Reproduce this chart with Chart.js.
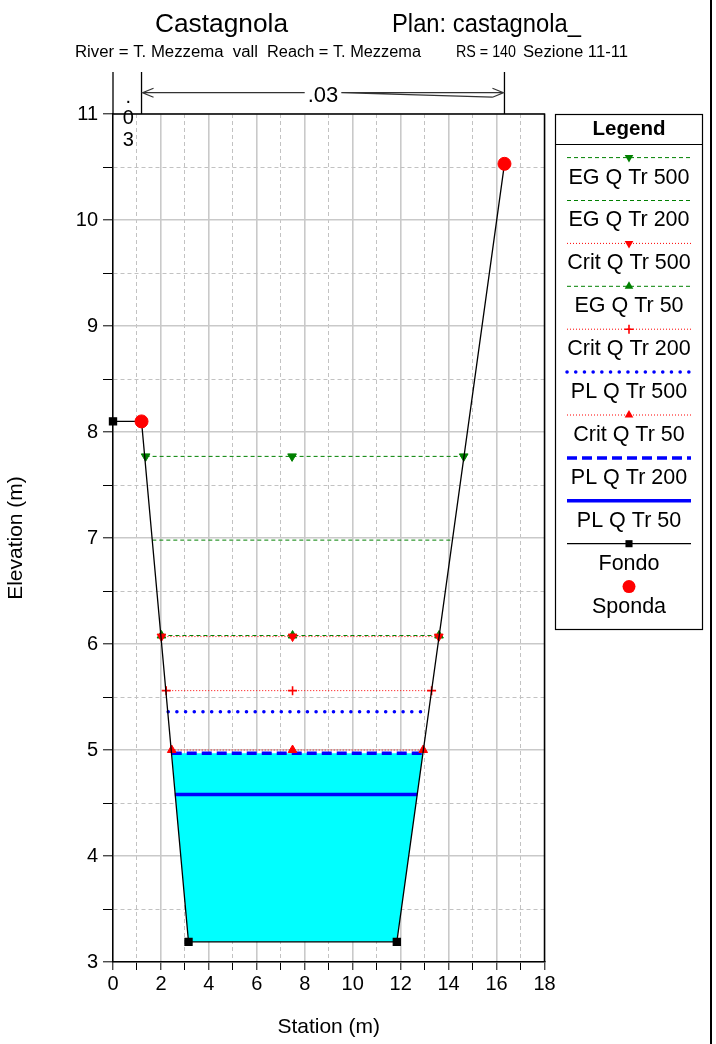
<!DOCTYPE html>
<html lang="it">
<head>
<meta charset="utf-8">
<title>Castagnola - Sezione 11-11</title>
<script src="https://cdn.jsdelivr.net/npm/chart.js@4.4.1/dist/chart.umd.min.js"></script>
<style>
  html, body { margin: 0; padding: 0; background: #fff; }
  canvas { display: block; }
</style>
</head>
<body>
<canvas id="sezione" width="716" height="1044"></canvas>
<script>
// Sezione trasversale RS 140
const FONT = '"Liberation Sans", Arial, sans-serif';

// fondo alveo
const fondoX = [0, 1.19, 3.15, 11.84, 16.33];
const fondoY = [8.10, 8.10, 3.19, 3.19, 10.53];

// sponde
const spondaX = [1.19, 16.33];
const spondaY = [8.10, 10.53];

// profili idrici (ordine della legenda)
const profili = ['EG Q Tr 500', 'EG Q Tr 200', 'Crit Q Tr 500', 'EG Q Tr 50', 'Crit Q Tr 200',
                 'PL Q Tr 500', 'Crit Q Tr 50', 'PL Q Tr 200', 'PL Q Tr 50'];
const quote     = [7.77, 6.98, 6.07, 6.08, 5.56, 5.36, 5.00, 4.97, 4.58];
const xSinistra = [1.36, 1.64, 2.02, 2.02, 2.22, 2.30, 2.45, 2.45, 2.58];
const xCentro   = [7.47, 7.47, 7.49, 7.49, 7.49, 7.49, 7.49, 7.49, 7.49];
const xDestra   = [14.63, 14.14, 13.59, 13.60, 13.29, 13.00, 12.94, 12.93, 12.69];

// area bagnata (PL Q Tr 200)
const acquaX = [2.45, 3.15, 11.84, 12.93, 2.45];
const acquaY = [4.97, 3.19, 3.19, 4.97, 4.97];

// scabrezza di Manning (golena sx, alveo)
const manningN = ['.03', '.03'];

// etichette degli assi
const etichetteX = [0, 2, 4, 6, 8, 10, 12, 14, 16, 18];
const etichetteY = [3, 4, 5, 6, 7, 8, 9, 10, 11];

// stili delle linee dei profili
const stili = [
  { colore: '#008000', tratto: [4, 3], spessore: 1, punto: 'triangle', rot: 180, raggio: 5 },
  { colore: '#008000', tratto: [4, 3], spessore: 1, punto: null },
  { colore: '#ff0000', tratto: [1, 2], spessore: 1, punto: 'triangle', rot: 180, raggio: 5 },
  { colore: '#008000', tratto: [4, 3], spessore: 1, punto: 'triangle', rot: 0, raggio: 5 },
  { colore: '#ff0000', tratto: [1, 2], spessore: 1, punto: 'cross', rot: 0, raggio: 4.5 },
  { colore: '#0000ff', tratto: [0.1, 8.6], spessore: 3.5, punto: null, cap: 'round' },
  { colore: '#ff0000', tratto: [1, 2], spessore: 1, punto: 'triangle', rot: 0, raggio: 5 },
  { colore: '#0000ff', tratto: [10, 5], spessore: 3.5, punto: null },
  { colore: '#0000ff', tratto: [], spessore: 3.5, punto: null }
];

const punti = (xs, ys) => xs.map((x, i) => ({ x: x, y: ys[i] }));

const datasets = [];
datasets.push({
  label: 'Sponda',
  data: punti(spondaX, spondaY),
  showLine: false,
  pointStyle: 'circle',
  pointRadius: 6.5,
  pointBackgroundColor: '#ff0000',
  pointBorderColor: '#ff0000',
  clip: false,
  order: 0
});
datasets.push({
  label: 'Fondo',
  data: punti(fondoX, fondoY),
  showLine: true,
  borderColor: '#000',
  borderWidth: 1.3,
  pointStyle: 'rect',
  pointRadius: 5,
  pointBackgroundColor: '#000',
  pointBorderColor: '#000',
  clip: false,
  order: 1
});
profili.forEach((nome, i) => {
  const s = stili[i];
  datasets.push({
    label: nome,
    data: [
      { x: xSinistra[i], y: quote[i] },
      { x: xCentro[i], y: quote[i] },
      { x: xDestra[i], y: quote[i] }
    ],
    showLine: true,
    borderColor: s.colore,
    borderWidth: s.spessore,
    borderDash: s.tratto,
    borderCapStyle: s.cap || 'butt',
    pointStyle: s.punto || 'circle',
    pointRadius: s.punto ? s.raggio : 0,
    pointRotation: s.rot || 0,
    pointBackgroundColor: s.colore,
    pointBorderColor: s.colore,
    pointBorderWidth: s.punto === 'cross' ? 1.6 : 1,
    order: 2 + i
  });
});
datasets.push({
  label: 'acqua',
  data: punti(acquaX, acquaY),
  showLine: true,
  fill: 'shape',
  backgroundColor: '#00ffff',
  borderColor: 'rgba(0,0,0,0)',
  borderWidth: 0,
  pointRadius: 0,
  order: 50
});

function disegnaMarker(ctx, tipo, raggio, rot, colore, cx, cy) {
  ctx.save();
  ctx.setLineDash([]);
  ctx.fillStyle = colore;
  ctx.strokeStyle = colore;
  ctx.beginPath();
  if (tipo === 'triangle') {
    const a = rot * Math.PI / 180;
    for (let k = 0; k < 3; k++) {
      const ang = a + k * 2 * Math.PI / 3;
      const px = cx + Math.sin(ang) * raggio;
      const py = cy - Math.cos(ang) * raggio;
      if (k === 0) ctx.moveTo(px, py); else ctx.lineTo(px, py);
    }
    ctx.closePath();
    ctx.fill();
  } else if (tipo === 'cross') {
    ctx.lineWidth = 1.6;
    ctx.moveTo(cx - raggio, cy); ctx.lineTo(cx + raggio, cy);
    ctx.moveTo(cx, cy - raggio); ctx.lineTo(cx, cy + raggio);
    ctx.stroke();
  } else if (tipo === 'rect') {
    const m = raggio * Math.SQRT1_2;
    ctx.fillRect(cx - m, cy - m, 2 * m, 2 * m);
  } else {
    ctx.arc(cx, cy, raggio, 0, Math.PI * 2);
    ctx.fill();
  }
  ctx.restore();
}

// testo stretto/allargato per occupare una larghezza data
function testoAdattato(ctx, testo, x, y, larghezza) {
  const w = ctx.measureText(testo).width;
  ctx.save();
  ctx.translate(x, y);
  ctx.scale(larghezza / w, 1);
  ctx.fillText(testo, 0, 0);
  ctx.restore();
}

// titoli, cornice, indicazione della scabrezza
const annotazioni = {
  id: 'annotazioni',
  afterDraw(chart) {
    const { ctx, chartArea: ca, scales: { x } } = chart;
    ctx.save();
    ctx.fillStyle = '#000';
    ctx.textBaseline = 'alphabetic';
    ctx.textAlign = 'left';
    ctx.font = '26px ' + FONT;
    testoAdattato(ctx, 'Castagnola', 155, 32, 133);
    testoAdattato(ctx, 'Plan: castagnola_', 392, 32, 189);
    ctx.font = '16px ' + FONT;
    testoAdattato(ctx, 'River = T. Mezzema  vall', 75, 57, 183);
    testoAdattato(ctx, 'Reach = T. Mezzema', 267, 57, 154);
    testoAdattato(ctx, 'RS = 140', 456, 57, 60);
    testoAdattato(ctx, 'Sezione 11-11', 523, 57, 105);

    // cornice superiore e destra dell'area del grafico
    ctx.strokeStyle = '#000';
    ctx.lineWidth = 1.5;
    ctx.beginPath();
    ctx.moveTo(ca.left, ca.top);
    ctx.lineTo(ca.right, ca.top);
    ctx.lineTo(ca.right, ca.bottom);
    ctx.stroke();

    // linee verticali delle sponde
    const bx1 = x.getPixelForValue(spondaX[0]);
    const bx2 = x.getPixelForValue(spondaX[1]);
    ctx.lineWidth = 1.3;
    ctx.beginPath();
    [ca.left, bx1, bx2].forEach(px => {
      ctx.moveTo(px, 72);
      ctx.lineTo(px, ca.top);
    });
    ctx.stroke();

    // n golena sinistra, scritto in verticale
    ctx.font = '20px ' + FONT;
    ctx.textAlign = 'center';
    const cxs = (ca.left + bx1) / 2 + 1;
    manningN[0].split('').forEach((c, k) => ctx.fillText(c, cxs, 102.5 + k * 21.5));

    // n alveo con frecce
    ctx.font = '22px ' + FONT;
    const cm = (bx1 + bx2) / 2;
    ctx.fillText(manningN[1], cm, 102);
    const tw = ctx.measureText(manningN[1]).width;
    const ya = 92.7;
    const t1 = cm - tw / 2 - 3, t2 = cm + tw / 2 + 3;
    ctx.strokeStyle = '#333';
    ctx.lineWidth = 1.2;
    ctx.beginPath();
    ctx.moveTo(t1, ya); ctx.lineTo(bx1 + 1, ya);
    ctx.moveTo(bx1 + 12, ya - 4.5); ctx.lineTo(bx1 + 1, ya); ctx.lineTo(bx1 + 12, ya + 4.5);
    ctx.moveTo(t2, ya); ctx.lineTo(bx2 - 1, ya);
    ctx.moveTo(bx2 - 12, ya - 4.5); ctx.lineTo(bx2 - 1, ya); ctx.lineTo(bx2 - 12, ya + 4.5);
    ctx.moveTo(t2, ya); ctx.lineTo(bx2 - 12, ya + 4.5);
    ctx.stroke();

    // bordo destro della pagina
    ctx.fillStyle = '#000';
    ctx.fillRect(710, 0, 2, 1044);
    ctx.restore();
  }
};

// legenda a destra
const legenda = {
  id: 'legenda',
  afterDraw(chart) {
    const ctx = chart.ctx;
    const x0 = 555.5, y0 = 114.5, w = 147, h = 515;
    const cx = x0 + w / 2;
    ctx.save();
    ctx.strokeStyle = '#000';
    ctx.lineWidth = 1.2;
    ctx.strokeRect(x0, y0, w, h);
    ctx.beginPath();
    ctx.moveTo(x0, 144.5);
    ctx.lineTo(x0 + w, 144.5);
    ctx.stroke();
    ctx.fillStyle = '#000';
    ctx.textAlign = 'center';
    ctx.textBaseline = 'middle';
    ctx.font = 'bold 20.5px ' + FONT;
    ctx.fillText('Legend', cx, 129);

    const voci = datasets.slice(2, 2 + profili.length).concat([datasets[1], datasets[0]]);
    voci.forEach((ds, i) => {
      const yl = 157.6 + i * 42.9;
      if (ds.showLine) {
        ctx.save();
        ctx.strokeStyle = ds.borderColor;
        ctx.lineWidth = ds.borderWidth;
        ctx.setLineDash(ds.borderDash || []);
        ctx.lineCap = ds.borderCapStyle || 'butt';
        ctx.beginPath();
        ctx.moveTo(567, yl);
        ctx.lineTo(691, yl);
        ctx.stroke();
        ctx.restore();
      }
      if (ds.pointRadius > 0) {
        disegnaMarker(ctx, ds.pointStyle, ds.pointRadius, ds.pointRotation || 0,
          ds.pointBackgroundColor, cx, yl);
      }
      ctx.fillStyle = '#000';
      ctx.font = '21.5px ' + FONT;
      ctx.fillText(ds.label, cx, yl + 20);
    });
    ctx.restore();
  }
};

const ctx = document.getElementById('sezione').getContext('2d');
new Chart(ctx, {
  type: 'scatter',
  data: { datasets: datasets },
  options: {
    responsive: false,
    animation: false,
    events: [],
    layout: { padding: { left: 0, right: 171.5, top: 114, bottom: 0 } },
    plugins: {
      legend: { display: false },
      tooltip: { enabled: false }
    },
    scales: {
      x: {
        type: 'linear',
        min: 0,
        max: 18,
        afterFit: (s) => { s.height = 82; },
        ticks: {
          stepSize: 1,
          autoSkip: false,
          maxRotation: 0,
          padding: 2,
          color: '#000',
          font: { family: FONT, size: 20 },
          callback: (v) => etichetteX.includes(v) ? String(v) : ''
        },
        grid: {
          color: (c) => (c.tick && etichetteX.includes(c.tick.value)) ? '#c9c9c9' : '#c2c2c2',
          lineWidth: (c) => (c.tick && etichetteX.includes(c.tick.value)) ? 1.6 : 1,
          tickColor: '#000',
          tickLength: 8,
          tickWidth: 1
        },
        border: {
          color: '#000',
          width: 1.5,
          dash: (c) => (c.tick && !etichetteX.includes(c.tick.value)) ? [4, 3] : []
        },
        title: {
          display: true,
          text: 'Station (m)',
          color: '#000',
          font: { family: FONT, size: 21 }
        }
      },
      y: {
        type: 'linear',
        min: 3,
        max: 11,
        afterFit: (s) => { s.width = 113; },
        ticks: {
          stepSize: 0.5,
          autoSkip: false,
          padding: 5,
          color: '#000',
          font: { family: FONT, size: 20 },
          callback: (v) => etichetteY.includes(v) ? String(v) : ''
        },
        grid: {
          color: (c) => (c.tick && etichetteY.includes(c.tick.value)) ? '#c9c9c9' : '#c2c2c2',
          lineWidth: (c) => (c.tick && etichetteY.includes(c.tick.value)) ? 1.6 : 1,
          tickColor: '#000',
          tickLength: 10,
          tickWidth: 1
        },
        border: {
          color: '#000',
          width: 1.5,
          dash: (c) => (c.tick && !etichetteY.includes(c.tick.value)) ? [4, 3] : []
        },
        title: {
          display: true,
          text: 'Elevation (m)',
          color: '#000',
          font: { family: FONT, size: 21 }
        }
      }
    }
  },
  plugins: [annotazioni, legenda]
});
</script>
</body>
</html>
